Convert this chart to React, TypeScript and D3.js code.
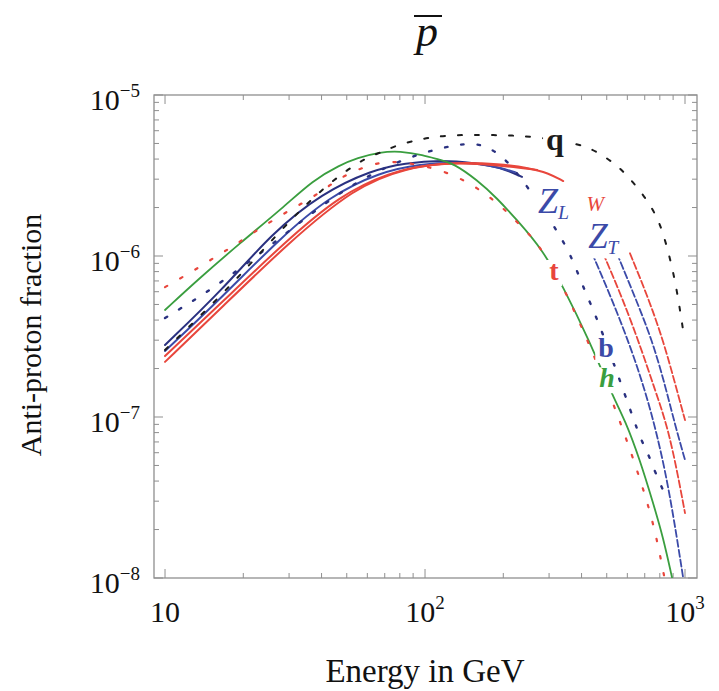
import React, { useEffect, useRef } from "react";
import * as d3 from "d3";

const W = 719;
const H = 691;
const X_DOMAIN: [number, number] = [9.07, 1112];
const Y_DOMAIN: [number, number] = [1e-8, 1e-5];

// ---- data (energy in GeV, anti-proton fraction) ----
const qEnergy = [10, 16.6, 25.8, 36.1, 47.1, 58.8, 68.4, 78.0, 93.2, 107, 128, 183, 260, 371, 431, 501, 562, 631, 714, 780, 823, 876, 931, 983];
const qFrac = [2.61e-7, 5.73e-7, 1.26e-6, 2.23e-6, 3.19e-6, 4.06e-6, 4.42e-6, 4.89e-6, 5.25e-6, 5.48e-6, 5.65e-6, 5.65e-6, 5.56e-6, 5.03e-6, 4.69e-6, 4.06e-6, 3.52e-6, 2.88e-6, 2.23e-6, 1.75e-6, 1.39e-6, 9.72e-7, 6.15e-7, 3.47e-7];

const hEnergy = [10, 13.6, 19.4, 28.4, 37.1, 47.1, 54.8, 67.1, 80.1, 98.2, 114, 128, 159, 189, 226, 284, 340, 424, 529, 588, 671, 754, 823, 891];
const hFrac = [4.62e-7, 7.3e-7, 1.2e-6, 1.99e-6, 2.96e-6, 3.67e-6, 4.06e-6, 4.42e-6, 4.49e-6, 4.24e-6, 3.95e-6, 3.78e-6, 2.96e-6, 2.29e-6, 1.67e-6, 1.09e-6, 6.41e-7, 3.1e-7, 1.33e-7, 9.57e-8, 5.41e-8, 2.92e-8, 1.8e-8, 1.01e-8];

const tEnergy = [10, 11.7, 13.6, 15.8, 18.3, 23.2, 30.2, 37.1, 43.1, 50.1, 59.8, 68.9, 80.1, 95.7, 114, 136, 159, 183, 207, 236, 270, 331, 431, 562, 689, 767, 830];
const tFrac = [6.41e-7, 7.41e-7, 8.55e-7, 1.0e-6, 1.15e-6, 1.49e-6, 1.93e-6, 2.32e-6, 2.76e-6, 3.23e-6, 3.62e-6, 3.84e-6, 3.84e-6, 3.67e-6, 3.42e-6, 3.05e-6, 2.64e-6, 2.23e-6, 1.88e-6, 1.51e-6, 1.22e-6, 7.1e-7, 2.8e-7, 9.57e-8, 3.67e-8, 1.99e-8, 1.04e-8];

const bEnergy = [10, 11.7, 13.6, 21.2, 33.1, 51.5, 80.1, 114, 152, 178, 207, 253, 303, 361, 405, 463, 604, 671, 720, 767, 823];
const bFrac = [4.12e-7, 4.82e-7, 5.56e-7, 9.18e-7, 1.63e-6, 2.76e-6, 3.95e-6, 4.69e-6, 5.1e-6, 4.69e-6, 3.95e-6, 2.57e-6, 1.67e-6, 1.06e-6, 6.41e-7, 4.0e-7, 1.22e-7, 7.41e-8, 5.97e-8, 4.55e-8, 3.52e-8];

const zlEnergy = [10, 16.6, 25.8, 40.2, 62.5, 83.8, 116, 156, 194, 236];
const zlFrac = [2.8e-7, 6.15e-7, 1.39e-6, 2.46e-6, 3.42e-6, 3.78e-6, 3.95e-6, 3.78e-6, 3.57e-6, 3.1e-6];
const ztEnergy = [10, 16.6, 27.7, 43.1, 67.1, 95.7, 136, 178, 222];
const ztFrac = [2.57e-7, 5.56e-7, 1.29e-6, 2.36e-6, 3.32e-6, 3.73e-6, 3.84e-6, 3.67e-6, 3.32e-6];
const wlEnergy = [10, 16.6, 28.9, 47.1, 73.3, 104, 149, 203, 270];
const wlFrac = [2.39e-7, 5.18e-7, 1.22e-6, 2.39e-6, 3.32e-6, 3.73e-6, 3.78e-6, 3.62e-6, 3.42e-6];
const wtEnergy = [10, 16.6, 29.7, 53.8, 83.8, 130, 194, 253, 297, 340];
const wtFrac = [2.2e-7, 4.82e-7, 1.2e-6, 2.68e-6, 3.52e-6, 3.84e-6, 3.73e-6, 3.52e-6, 3.28e-6, 2.92e-6];

const zlTailEnergy = [439, 515, 614, 701, 767, 838, 908, 983];
const zlTailFrac = [1.04e-6, 5.73e-7, 2.8e-7, 1.47e-7, 8.67e-8, 4.69e-8, 2.29e-8, 1.01e-8];
const wlTailEnergy = [484, 572, 671, 767, 853, 931, 1000];
const wlTailFrac = [1.04e-6, 5.56e-7, 2.8e-7, 1.47e-7, 8.91e-8, 4.69e-8, 2.53e-8];
const ztTailEnergy = [547, 642, 747, 838, 916, 1000];
const ztTailFrac = [1.04e-6, 5.56e-7, 3.01e-7, 1.58e-7, 8.91e-8, 5.41e-8];
const wtTailEnergy = [614, 720, 823, 908, 1000];
const wtTailFrac = [1.04e-6, 5.56e-7, 3.01e-7, 1.7e-7, 9.57e-8];

const xMajor = [10, 100, 1000];
const xMinor = [20, 30, 40, 50, 60, 70, 80, 90, 200, 300, 400, 500, 600, 700, 800, 900];
const yExponents = [-8, -7, -6, -5];
const yMinorMultipliers = [2, 3, 4, 5, 6, 7, 8, 9];

const BLUE = "#3b4aa8";
const DARKBLUE = "#2a3180";
const RED = "#e8463c";
const GREEN = "#3a9e3f";
const BLACK = "#1c1c1c";
const SERIF = "'Liberation Serif', 'Times New Roman', serif";

export default function App() {
  const ref = useRef<SVGSVGElement>(null);

  useEffect(() => {
    const svg = d3.select(ref.current);
    svg.selectAll("*").remove();

    const left = 154, right = 697, top = 95, bottom = 578;
    const x = d3.scaleLog().domain(X_DOMAIN).range([left, right]);
    const y = d3.scaleLog().domain(Y_DOMAIN).range([bottom, top]);

    svg.append("rect").attr("width", W).attr("height", H).attr("fill", "#fff");

    const defs = svg.append("defs");
    defs.append("clipPath").attr("id", "plotclip")
      .append("rect").attr("x", left).attr("y", top)
      .attr("width", right - left).attr("height", bottom - top);

    // frame and ticks
    const axisColor = "#8f8f8f";
    svg.append("rect").attr("x", left).attr("y", top)
      .attr("width", right - left).attr("height", bottom - top)
      .attr("fill", "none").attr("stroke", axisColor).attr("stroke-width", 1.3);

    const tickG = svg.append("g").attr("stroke", axisColor).attr("stroke-width", 1);
    const xt = [...xMajor.map((v) => ({ v, len: 9 })), ...xMinor.map((v) => ({ v, len: 5 }))];
    xt.forEach(({ v, len }) => {
      const px = x(v);
      tickG.append("line").attr("x1", px).attr("x2", px).attr("y1", bottom).attr("y2", bottom - len);
      tickG.append("line").attr("x1", px).attr("x2", px).attr("y1", top).attr("y2", top + len);
    });
    const yt: { v: number; len: number }[] = [];
    yExponents.forEach((e) => {
      yt.push({ v: Math.pow(10, e), len: 9 });
      if (e < -5) yMinorMultipliers.forEach((m) => yt.push({ v: m * Math.pow(10, e), len: 5 }));
    });
    yt.forEach(({ v, len }) => {
      const py = y(v);
      tickG.append("line").attr("x1", left).attr("x2", left + len).attr("y1", py).attr("y2", py);
      tickG.append("line").attr("x1", right).attr("x2", right - len).attr("y1", py).attr("y2", py);
    });

    // tick labels
    yExponents.forEach((e) => {
      const t = svg.append("text").attr("x", 140).attr("y", y(Math.pow(10, e)) + 15)
        .attr("text-anchor", "end").attr("font-family", SERIF).attr("fill", "#111");
      t.append("tspan").attr("font-size", 30).text("10");
      t.append("tspan").attr("font-size", 19).attr("dy", -13).text("\u2212" + Math.abs(e));
    });
    xMajor.forEach((v) => {
      const e = Math.round(Math.log10(v));
      const t = svg.append("text").attr("x", x(v)).attr("y", 622)
        .attr("text-anchor", "middle").attr("font-family", SERIF).attr("fill", "#111");
      t.append("tspan").attr("font-size", 30).text("10");
      if (e > 1) t.append("tspan").attr("font-size", 19).attr("dy", -13).text(String(e));
    });

    // axis titles
    svg.append("text").attr("x", 425).attr("y", 682).attr("text-anchor", "middle")
      .attr("font-family", SERIF).attr("font-size", 33).attr("fill", "#111").text("Energy in GeV");
    svg.append("text").attr("transform", "translate(41,335) rotate(-90)").attr("text-anchor", "middle")
      .attr("font-family", SERIF).attr("font-size", 30).attr("fill", "#111").text("Anti-proton fraction");

    // title p-bar
    svg.append("text").attr("x", 427).attr("y", 46).attr("text-anchor", "middle")
      .attr("font-family", SERIF).attr("font-style", "italic").attr("font-size", 44).attr("fill", "#111").text("p");
    svg.append("line").attr("x1", 414).attr("x2", 442).attr("y1", 16).attr("y2", 16)
      .attr("stroke", "#111").attr("stroke-width", 2);

    // curves
    const series = [
      { E: zlEnergy, v: zlFrac, color: DARKBLUE, dash: null, w: 2 },
      { E: ztEnergy, v: ztFrac, color: BLUE, dash: null, w: 2 },
      { E: wlEnergy, v: wlFrac, color: RED, dash: null, w: 2 },
      { E: wtEnergy, v: wtFrac, color: RED, dash: null, w: 2 },
      { E: zlTailEnergy, v: zlTailFrac, color: BLUE, dash: "7 3", w: 1.8 },
      { E: wlTailEnergy, v: wlTailFrac, color: RED, dash: "7 3", w: 1.8 },
      { E: ztTailEnergy, v: ztTailFrac, color: BLUE, dash: "7 3", w: 1.8 },
      { E: wtTailEnergy, v: wtTailFrac, color: RED, dash: "7 3", w: 1.8 },
      { E: hEnergy, v: hFrac, color: GREEN, dash: null, w: 1.8 },
      { E: tEnergy, v: tFrac, color: RED, dash: "2.5 15", w: 2.2 },
      { E: bEnergy, v: bFrac, color: DARKBLUE, dash: "2.5 14", w: 2.4 },
      { E: qEnergy, v: qFrac, color: BLACK, dash: "4 13", w: 2 },
    ];
    const line = d3.line<[number, number]>()
      .x((d) => x(d[0])).y((d) => y(d[1]))
      .curve(d3.curveBasis);
    const curveG = svg.append("g").attr("clip-path", "url(#plotclip)");
    series.forEach((s) => {
      const pts = s.E.map((e, i) => [e, s.v[i]] as [number, number]);
      const p = curveG.append("path").attr("d", line(pts) as string)
        .attr("fill", "none").attr("stroke", s.color).attr("stroke-width", s.w)
        .attr("stroke-linecap", "round").attr("stroke-linejoin", "round");
      if (s.dash) p.attr("stroke-dasharray", s.dash);
    });

    // labels with white background boxes
    const labels = [
      { main: "q", sub: "", E: 316, v: 4.55e-6, color: BLACK, size: 32, italic: false, bold: true, anchor: "middle" },
      { main: "Z", sub: "L", E: 272, v: 1.85e-6, color: BLUE, size: 36, italic: true, bold: false, anchor: "start" },
      { main: "W", sub: "", E: 418, v: 1.9e-6, color: RED, size: 21, italic: true, bold: false, anchor: "start" },
      { main: "Z", sub: "T", E: 424, v: 1.12e-6, color: BLUE, size: 35, italic: true, bold: false, anchor: "start" },
      { main: "t", sub: "", E: 313, v: 7.1e-7, color: RED, size: 28, italic: false, bold: true, anchor: "middle" },
      { main: "b", sub: "", E: 497, v: 2.36e-7, color: BLUE, size: 28, italic: false, bold: true, anchor: "middle" },
      { main: "h", sub: "", E: 501, v: 1.53e-7, color: GREEN, size: 28, italic: true, bold: true, anchor: "middle" },
    ];
    labels.forEach((l) => {
      const g = svg.append("g");
      const rect = g.append("rect").attr("fill", "#fff");
      const t = g.append("text").attr("x", x(l.E)).attr("y", y(l.v))
        .attr("text-anchor", l.anchor).attr("font-family", SERIF).attr("fill", l.color)
        .attr("font-style", l.italic ? "italic" : "normal")
        .attr("font-weight", l.bold ? "bold" : "normal");
      t.append("tspan").attr("font-size", l.size).text(l.main);
      if (l.sub) t.append("tspan").attr("font-size", l.size * 0.55).attr("dy", l.size * 0.18).text(l.sub);
      const node = t.node() as SVGTextElement;
      const bb = node.getBBox();
      const trim = l.size * 0.18;
      rect.attr("x", bb.x - 3).attr("y", bb.y + trim).attr("width", bb.width + 6).attr("height", bb.height - trim);
    });
  }, []);

  return (
    <svg ref={ref} width={W} height={H}
      style={{ position: "absolute", left: 0, top: 0, display: "block" }} />
  );
}
